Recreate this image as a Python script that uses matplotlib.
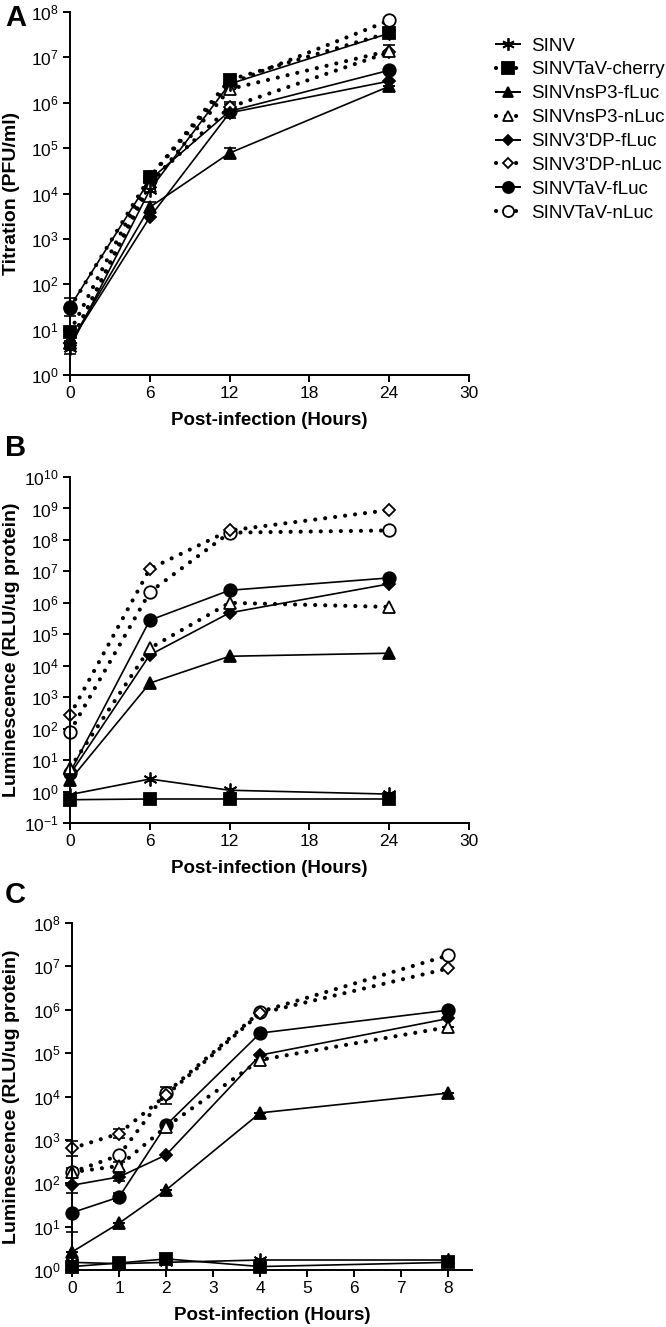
import numpy as np
import matplotlib
matplotlib.use('Agg')
import matplotlib.pyplot as plt
from matplotlib.lines import Line2D

plt.rcParams['font.family'] = ['Liberation Sans', 'DejaVu Sans']
plt.rcParams['mathtext.fontset'] = 'custom'
plt.rcParams['mathtext.rm'] = 'Liberation Sans'
plt.rcParams['mathtext.it'] = 'Liberation Sans'

names = ['SINV', 'SINVTaV-cherry', 'SINVnsP3-fLuc', 'SINVnsP3-nLuc',
         "SINV3'DP-fLuc", "SINV3'DP-nLuc", 'SINVTaV-fLuc', 'SINVTaV-nLuc']
markers = [(6, 2, 0), 's', '^', '^', 'D', 'D', 'o', 'o']
filled = [True, True, True, False, True, False, True, False]
dotted = [False, True, False, True, False, True, False, True]

# panel A: virus titre (PFU/ml)
hours_a = [0, 6, 12, 24]
titre = [
    [4, 1.2e4, 2.6e6, 3.4e7],
    [9, 2.3e4, 3.2e6, 3.5e7],
    [5, 5e3, 7.8e4, 2.3e6],
    [5, 1.5e4, 2.0e6, 1.4e7],
    [5, 3e3, 6e5, 3e6],
    [5, 1.8e4, 8e5, 1.3e7],
    [32, 2e4, 6.5e5, 5.2e6],
    [30, 2.3e4, 2.6e6, 6.5e7],
]
titre_err = [  # log10 half-width
    [0.15, 0, 0, 0],
    [0, 0, 0, 0],
    [0, 0.12, 0.12, 0],
    [0, 0, 0, 0.12],
    [0, 0, 0, 0],
    [0, 0, 0.12, 0],
    [0.2, 0, 0.15, 0],
    [0, 0, 0, 0],
]

# panel B: luminescence, 0-24 h
hours_b = [0, 6, 12, 24]
lum_b = [
    [0.8, 2.5, 1.1, 0.83],
    [0.55, 0.58, 0.58, 0.58],
    [2.3, 2.8e3, 2e4, 2.5e4],
    [5.6, 3.6e4, 1e6, 7.4e5],
    [3.5, 2.2e4, 4.8e5, 4e6],
    [270, 1.2e7, 2e8, 8.9e8],
    [4, 2.8e5, 2.5e6, 6.2e6],
    [80, 2.2e6, 1.7e8, 2e8],
]

# panel C: luminescence, 0-8 h
hours_c = [0, 1, 2, 4, 8]
lum_c = [
    [1.5, 1.4, 1.5, 1.7, 1.7],
    [1.2, 1.45, 1.8, 1.2, 1.5],
    [2.6, 12, 70, 4.2e3, 1.2e4],
    [180, 250, 2e3, 7e4, 4e5],
    [90, 140, 450, 9e4, 6.3e5],
    [640, 1.4e3, 1.07e4, 8.3e5, 9e6],
    [21, 48, 2.2e3, 2.9e5, 9.8e5],
    [180, 440, 1.2e4, 9e5, 1.8e7],
]
lum_c_err = [
    [0, 0, 0, 0, 0],
    [0, 0, 0, 0, 0],
    [0, 0, 0, 0, 0],
    [0.1, 0.1, 0, 0, 0],
    [0, 0.1, 0, 0, 0],
    [0.17, 0.1, 0.2, 0, 0],
    [0.45, 0.1, 0, 0, 0],
    [0, 0, 0, 0, 0],
]

A_decades = list(range(0, 9))
B_decades = list(range(-1, 11))
C_decades = list(range(0, 9))

DOT = (0, (0.01, 2.4))


def marker_size(m):
    if m == 'D':
        return 6.5
    if m == (6, 2, 0):
        return 10
    if m == '^':
        return 8.5
    return 9


def draw(ax, x, series, errs=None, solid_cherry=False):
    n = len(series)
    for i in range(n):
        z = 2 + (n - i) * 0.1  # first series ends up on top
        y = np.array(series[i], dtype=float)
        mfc = 'black' if filled[i] else 'white'
        is_dot = dotted[i] and not (solid_cherry and i == 1)
        if is_dot:
            ax.plot(x, y, color='black', lw=3.0, linestyle=DOT,
                    dash_capstyle='round', zorder=2)
        else:
            ax.plot(x, y, color='black', lw=1.2, zorder=2)
        if errs is not None:
            e = np.array(errs[i])
            lo = y - y / 10 ** e
            hi = y * 10 ** e - y
            ax.errorbar(x, y, yerr=[lo, hi], fmt='none', ecolor='black',
                        elinewidth=1.2, capsize=4, capthick=1.2, zorder=3)
        ax.plot(x, y, linestyle='none', marker=markers[i],
                ms=marker_size(markers[i]), mfc=mfc, mec='black', mew=1.3,
                zorder=4 + (n - i) * 0.1)


def style(ax, xt, xmax, decades):
    ax.set_yscale('log')
    for s in ['top', 'right']:
        ax.spines[s].set_visible(False)
    for s in ['left', 'bottom']:
        ax.spines[s].set_linewidth(1.4)
        ax.spines[s].set_zorder(6)
    ax.set_xlim(0, xmax)
    ax.set_xticks(xt)
    ax.set_ylim(10.0 ** decades[0], 10.0 ** decades[-1])
    ax.set_yticks([10.0 ** d for d in decades])
    ax.set_yticklabels(['$10^{%d}$' % d for d in decades])
    ax.minorticks_off()
    ax.tick_params(axis='both', which='major', direction='out', length=5,
                   width=1.4, labelsize=12.5, pad=3)
    ax.set_xlabel('Post-infection (Hours)', fontsize=13.5, fontweight='bold',
                  labelpad=8)


fig = plt.figure(figsize=(6.66, 13.27), dpi=100)
W, H = 666.0, 1327.0

axA = fig.add_axes([70 / W, 1 - 375 / H, 399 / W, 363 / H])
axB = fig.add_axes([70 / W, 1 - 823 / H, 399 / W, 346 / H])
axC = fig.add_axes([72 / W, 1 - 1270 / H, 400 / W, 347 / H])

draw(axA, hours_a, titre, titre_err)
draw(axB, hours_b, lum_b, solid_cherry=True)
draw(axC, hours_c, lum_c, lum_c_err, solid_cherry=True)

style(axA, [0, 6, 12, 18, 24, 30], 30, A_decades)
style(axB, [0, 6, 12, 18, 24, 30], 30, B_decades)
style(axC, [0, 1, 2, 3, 4, 5, 6, 7, 8], 8.5, C_decades)

axA.set_ylabel('Titration (PFU/ml)', fontsize=14, fontweight='bold')
axB.set_ylabel('Luminescence (RLU/ug protein)', fontsize=14, fontweight='bold')
axC.set_ylabel('Luminescence (RLU/ug protein)', fontsize=14, fontweight='bold')
axA.yaxis.set_label_coords(-0.125, 0.5)
axB.yaxis.set_label_coords(-0.125, 0.5)
axC.yaxis.set_label_coords(-0.13, 0.5)

for ax in (axA, axB, axC):
    for art in ax.get_children():
        if hasattr(art, 'set_clip_on'):
            art.set_clip_on(False)

fig.text(5 / W, 1 - 4 / H, 'A', fontsize=21, fontweight='bold', va='top')
fig.text(5 / W, 1 - 434 / H, 'B', fontsize=21, fontweight='bold', va='top')
fig.text(5 / W, 1 - 881 / H, 'C', fontsize=21, fontweight='bold', va='top')

handles = []
for i in range(len(names)):
    mfc = 'black' if filled[i] else 'white'
    ms = marker_size(markers[i]) - 1
    if dotted[i]:
        h = Line2D([0], [0], color='black', lw=3.0, linestyle=DOT,
                   dash_capstyle='round', marker=markers[i], ms=ms, mfc=mfc,
                   mec='black', mew=1.3)
    else:
        h = Line2D([0], [0], color='black', lw=1.4, marker=markers[i], ms=ms,
                   mfc=mfc, mec='black', mew=1.3)
    handles.append(h)

fig.legend(handles, names, loc='upper left', bbox_to_anchor=(488 / W, 1 - 30 / H),
           frameon=False, fontsize=13.5, handlelength=1.3, handletextpad=0.6,
           labelspacing=0.36, borderaxespad=0)

fig.savefig('out.png', dpi=100)
